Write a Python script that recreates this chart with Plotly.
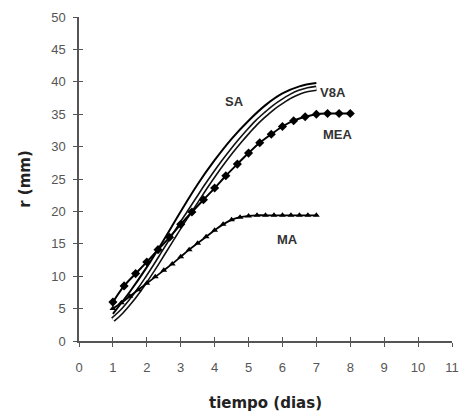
import plotly.graph_objects as go

# SA (solid line, no markers)
sa_x = [1.0, 1.5, 2.0, 2.5, 3.0, 3.5, 4.0, 4.5, 5.0, 5.5, 6.0, 6.5, 7.0]
sa_y = [4.2, 7.6, 11.4, 15.6, 20.0, 24.2, 27.9, 31.2, 34.0, 36.4, 38.2, 39.3, 39.8]

# V8A (open circles)
v8a_x = [1.0, 1.25, 1.5, 1.75, 2.0, 2.25, 2.5, 2.75, 3.0, 3.25, 3.5, 3.75, 4.0,
         4.25, 4.5, 4.75, 5.0, 5.25, 5.5, 5.75, 6.0, 6.25, 6.5, 6.75, 7.0]
v8a_y = [3.3, 4.5, 6.0, 7.7, 9.6, 11.6, 13.7, 15.8, 17.9, 19.9, 21.9, 23.9, 25.8,
         27.6, 29.3, 30.9, 32.4, 33.8, 35.0, 36.1, 37.0, 37.8, 38.4, 38.8, 39.0]

# MEA (filled diamonds)
mea_x = [1.0, 1.33, 1.67, 2.0, 2.33, 2.67, 3.0, 3.33, 3.67, 4.0, 4.33, 4.67, 5.0,
         5.33, 5.67, 6.0, 6.33, 6.67, 7.0, 7.33, 7.67, 8.0]
mea_y = [6.0, 8.5, 10.4, 12.2, 14.1, 16.0, 18.0, 19.9, 21.8, 23.6, 25.5, 27.3, 29.0,
         30.6, 31.9, 33.1, 34.0, 34.6, 35.0, 35.1, 35.1, 35.1]

# MA (triangles)
ma_x = [1.0, 1.25, 1.5, 1.75, 2.0, 2.25, 2.5, 2.75, 3.0, 3.25, 3.5, 3.75, 4.0,
        4.25, 4.5, 4.75, 5.0, 5.25, 5.5, 5.75, 6.0, 6.25, 6.5, 6.75, 7.0]
ma_y = [5.0, 5.9, 6.9, 7.9, 8.9, 9.9, 10.9, 11.9, 13.0, 14.1, 15.1, 16.1, 17.1,
        18.0, 18.7, 19.1, 19.3, 19.4, 19.4, 19.4, 19.4, 19.4, 19.4, 19.4, 19.4]

x_ticks = list(range(0, 12))
y_ticks = list(range(0, 51, 5))

labels = ["SA", "V8A", "MEA", "MA"]
label_x = [4.6, 7.5, 7.65, 6.15]
label_y = [37.0, 38.3, 31.8, 15.6]

fig = go.Figure()
fig.add_trace(go.Scatter(x=sa_x, y=sa_y, mode="lines", line=dict(color="black", width=2, shape="spline"), name="SA"))
# V8A drawn as a hollow "tube" (dense open circles in the original)
fig.add_trace(go.Scatter(x=v8a_x, y=v8a_y, mode="lines", line=dict(color="#111111", width=5.5, shape="spline"),
                         name="V8A", hoverinfo="skip"))
fig.add_trace(go.Scatter(x=v8a_x, y=v8a_y, mode="lines", line=dict(color="white", width=2.3, shape="spline"),
                         name="V8A"))
fig.add_trace(go.Scatter(x=mea_x, y=mea_y, mode="lines+markers", line=dict(color="black", width=2, shape="spline"),
                         marker=dict(symbol="diamond", size=7, color="black"), name="MEA"))
fig.add_trace(go.Scatter(x=ma_x, y=ma_y, mode="lines+markers", line=dict(color="black", width=1.8, shape="spline"),
                         marker=dict(symbol="triangle-up", size=6, color="black"), name="MA"))

for t, xx, yy in zip(labels, label_x, label_y):
    fig.add_annotation(x=xx, y=yy, text="<b>%s</b>" % t, showarrow=False,
                       font=dict(family="Liberation Sans, Arial", size=13, color="#333333"))

axcol = "#555555"
title_font = dict(family="DejaVu Sans", size=15, color="#222222")
fig.update_layout(
    width=465, height=412,
    margin=dict(l=79, r=13, t=17, b=71),
    paper_bgcolor="white", plot_bgcolor="white",
    showlegend=False,
    font=dict(family="Liberation Sans, Arial", size=13, color="#444444"),
    xaxis=dict(range=[0, 11], tickvals=x_ticks, ticks="outside", ticklen=4, tickcolor=axcol, tickwidth=1.3,
               showline=True, linecolor=axcol, linewidth=1.5, showgrid=False, zeroline=False,
               ticklabelstandoff=10, automargin=False,
               title=dict(text="<b>tiempo (dias)</b>", font=title_font, standoff=25),
               tickfont=dict(size=13, color="#555555")),
    yaxis=dict(range=[0, 50], tickvals=y_ticks, ticks="outside", ticklen=4, tickcolor=axcol, tickwidth=1.3,
               showline=True, linecolor=axcol, linewidth=1.5, showgrid=False, zeroline=False,
               ticklabelstandoff=5, automargin=False,
               title=dict(text="<b>r (mm)</b>", font=title_font, standoff=17),
               tickfont=dict(size=13, color="#555555")),
    xaxis2=dict(range=[0, 11], tickvals=x_ticks, ticks="inside", ticklen=4, tickcolor=axcol, tickwidth=1.3,
                overlaying="x", side="bottom", showticklabels=False, showgrid=False, zeroline=False, showline=False),
    yaxis2=dict(range=[0, 50], tickvals=y_ticks, ticks="inside", ticklen=4, tickcolor=axcol, tickwidth=1.3,
                overlaying="y", side="left", showticklabels=False, showgrid=False, zeroline=False, showline=False),
)
fig.add_trace(go.Scatter(x=[0], y=[0], xaxis="x2", yaxis="y2", mode="markers", marker=dict(opacity=0), hoverinfo="skip"))

fig.write_html("out.html")
